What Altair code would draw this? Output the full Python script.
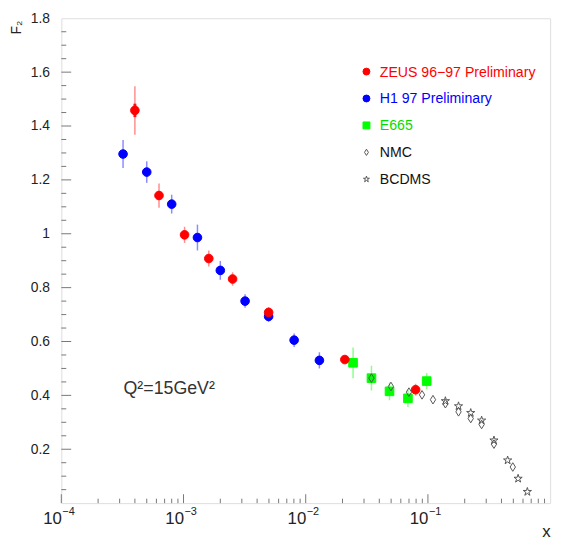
import altair as alt
import pandas as pd

# ---- data ----
zeus_x = [4.0e-4, 6.3e-4, 1.02e-3, 1.61e-3, 2.52e-3, 4.97e-3, 0.0209, 0.0793]
zeus_f2 = [1.458, 1.142, 0.996, 0.908, 0.832, 0.708, 0.533, 0.421]
zeus_err = [0.090, 0.045, 0.030, 0.030, 0.025, 0.020, 0.012, 0.022]
zeus_stat = [0.025, 0.015, 0.012, 0.012, 0.010, 0.008, 0.006, 0.008]

h1_x = [3.2e-4, 5.0e-4, 8.0e-4, 1.3e-3, 2.0e-3, 3.19e-3, 4.97e-3, 8.04e-3, 0.01294]
h1_f2 = [1.296, 1.229, 1.110, 0.986, 0.864, 0.750, 0.693, 0.605, 0.530]
h1_err = [0.052, 0.040, 0.035, 0.048, 0.035, 0.025, 0.020, 0.025, 0.030]

e665_x = [0.0244, 0.0345, 0.0485, 0.0686, 0.0977]
e665_f2 = [0.521, 0.464, 0.415, 0.389, 0.453]
e665_err = [0.057, 0.046, 0.033, 0.032, 0.030]

nmc_x = [0.0345, 0.0498, 0.0699, 0.0895, 0.110, 0.139, 0.178, 0.224, 0.275, 0.347, 0.495]
nmc_f2 = [0.464, 0.433, 0.412, 0.402, 0.384, 0.369, 0.339, 0.314, 0.292, 0.219, 0.134]

bcdms_x = [0.139, 0.178, 0.224, 0.275, 0.347, 0.449, 0.547, 0.651]
bcdms_f2 = [0.379, 0.360, 0.335, 0.307, 0.233, 0.159, 0.091, 0.042]

names = ["ZEUS 96\u221297 Preliminary", "H1 97 Preliminary", "E665", "NMC", "BCDMS"]
x_label_ticks = [1e-4, 1e-3, 1e-2, 1e-1]
x_exponents = ["\u22124", "\u22123", "\u22122", "\u22121"]
y_label_ticks = [0.2, 0.4, 0.6, 0.8, 1.0, 1.2, 1.4, 1.6, 1.8]

# ---- styles ----
fill_colors = ["#ff0000", "#0000ff", "#00ff00", "transparent", "transparent"]
stroke_colors = ["#ff0000", "#0000ff", "#00ff00", "#555555", "#555555"]
label_colors = ["#ff0000", "#0000ff", "#00dd00", "#111111", "#111111"]
DIAMOND = "M0,-1L0.62,0L0,1L-0.62,0Z"
STAR = ("M0,-1L0.223,-0.307L0.951,-0.309L0.361,0.117L0.588,0.809L0,0.38"
        "L-0.588,0.809L-0.361,0.117L-0.951,-0.309L-0.223,-0.307Z")
shapes = ["circle", "circle", "square", DIAMOND, STAR]
sizes = [76, 76, 56, 30, 42]
legend_sizes = [49, 49, 49, 40, 40]
FONT = "Liberation Sans"
AXIS_GREY = "#777777"
TEXT = "#222222"

# ---- tables (drawing order: E665, H1, ZEUS, NMC, BCDMS) ----
rows = []
def add(name, xs, ys, errs=None, stats=None):
    for i, (xv, yv) in enumerate(zip(xs, ys)):
        rows.append({
            "series": name, "x": xv, "f2": yv,
            "err": errs[i] if errs else 0.0,
            "stat": stats[i] if stats else 0.0,
        })

add(names[2], e665_x, e665_f2, e665_err)
add(names[1], h1_x, h1_f2, h1_err)
add(names[0], zeus_x, zeus_f2, zeus_err, zeus_stat)
add(names[3], nmc_x, nmc_f2)
add(names[4], bcdms_x, bcdms_f2)
df = pd.DataFrame(rows)

x_minor = [k * 10.0 ** e for e in range(-4, 0) for k in range(2, 10)]
y_minor = [round(0.05 * i, 2) for i in range(1, 36) if i % 4]
y_major = [round(0.2 * i, 1) for i in range(1, 9)]

xscale = alt.Scale(type="log", domain=[1e-4, 1], nice=False)
yscale = alt.Scale(domain=[0, 1.8], nice=False, zero=False)
shape_scale = alt.Scale(domain=names, range=shapes)
fill_scale = alt.Scale(domain=names, range=fill_colors)
stroke_scale = alt.Scale(domain=names, range=stroke_colors)

W, H = 495, 491

x_axis = alt.Axis(
    values=x_label_ticks, labelExpr="'10'", labelAlign="right", labelFlush=False,
    labelOverlap=False, labelBaseline="alphabetic", labelPadding=21,
    labelFontSize=17, labelFont=FONT, labelColor=TEXT,
    ticks=False, domain=False, grid=False,
    title="x", titleFont=FONT, titleFontSize=17, titleFontWeight="normal",
    titleColor=TEXT, titleX=W, titleY=34, titleAlign="right",
    titleBaseline="alphabetic", titleAnchor="end",
)
y_axis = alt.Axis(
    values=y_label_ticks, format=".1~f", labelPadding=12, labelFontSize=14,
    labelFont=FONT, labelColor=TEXT, ticks=False, domain=False, grid=False,
    title="F\u2082", titleFont=FONT, titleFontSize=14, titleFontWeight="normal",
    titleColor=TEXT, titleAngle=270, titleAlign="left", titleBaseline="alphabetic",
    titleX=-41, titleY=16,
)

errs = alt.Chart(df).transform_filter("datum.err > 0").transform_calculate(
    lo="datum.f2 - datum.err", hi="datum.f2 + datum.err"
).mark_rule(strokeWidth=1.5, opacity=0.45).encode(
    x=alt.X("x:Q", scale=xscale, axis=x_axis),
    y=alt.Y("lo:Q", scale=yscale, axis=y_axis),
    y2="hi:Q",
    color=alt.Color("series:N", scale=stroke_scale, legend=None),
)

stat = alt.Chart(df).transform_filter("datum.stat > 0").transform_calculate(
    lo="datum.f2 - datum.stat", hi="datum.f2 + datum.stat"
).mark_rule(strokeWidth=3, opacity=0.9).encode(
    x=alt.X("x:Q", scale=xscale),
    y=alt.Y("lo:Q", scale=yscale),
    y2="hi:Q",
    color=alt.Color("series:N", scale=stroke_scale, legend=None),
)

points = alt.Chart(df).mark_point(filled=True, opacity=1, strokeWidth=1).encode(
    x=alt.X("x:Q", scale=xscale),
    y=alt.Y("f2:Q", scale=yscale),
    shape=alt.Shape("series:N", scale=shape_scale, legend=None),
    fill=alt.Fill("series:N", scale=fill_scale, legend=None),
    stroke=alt.Stroke("series:N", scale=stroke_scale, legend=None),
    size=alt.Size("series:N", scale=alt.Scale(domain=names, range=sizes), legend=None),
)

# inward tick marks
xmaj = alt.Chart(pd.DataFrame({"x": x_label_ticks})).mark_rule(color=AXIS_GREY).encode(
    x=alt.X("x:Q", scale=xscale), y=alt.value(H), y2=alt.value(H - 9))
xmin = alt.Chart(pd.DataFrame({"x": x_minor})).mark_rule(color=AXIS_GREY).encode(
    x=alt.X("x:Q", scale=xscale), y=alt.value(H), y2=alt.value(H - 4.5))
ymaj = alt.Chart(pd.DataFrame({"f2": y_major})).mark_rule(color=AXIS_GREY).encode(
    y=alt.Y("f2:Q", scale=yscale), x=alt.value(0), x2=alt.value(10))
ymin = alt.Chart(pd.DataFrame({"f2": y_minor})).mark_rule(color=AXIS_GREY).encode(
    y=alt.Y("f2:Q", scale=yscale), x=alt.value(0), x2=alt.value(5))

# exponents of the x labels
expo = alt.Chart(pd.DataFrame({"x": x_label_ticks, "t": x_exponents})).mark_text(
    align="left", baseline="alphabetic", dx=1, fontSize=11, font=FONT, color=TEXT
).encode(x=alt.X("x:Q", scale=xscale), y=alt.value(H + 12), text="t:N")

q2 = alt.Chart(pd.DataFrame({"t": ["Q\u00b2=15GeV\u00b2"]})).mark_text(
    align="left", baseline="alphabetic", fontSize=18, font=FONT, color="#333333"
).encode(x=alt.value(63), y=alt.value(381), text="t:N")

# legend drawn as marks (symbol + coloured label per entry)
LEG_X, LEG_Y0, LEG_DY = 309, 54, 27.25
legend_layers = []
for i, name in enumerate(names):
    ldf = pd.DataFrame({"series": [name]})
    ly = LEG_Y0 + i * LEG_DY
    sym = alt.Chart(ldf).mark_point(filled=True, opacity=1, strokeWidth=1,
                                    size=legend_sizes[i]).encode(
        x=alt.value(LEG_X), y=alt.value(ly),
        shape=alt.Shape("series:N", scale=shape_scale, legend=None),
        fill=alt.Fill("series:N", scale=fill_scale, legend=None),
        stroke=alt.Stroke("series:N", scale=stroke_scale, legend=None),
    )
    lab = alt.Chart(ldf).mark_text(
        align="left", baseline="middle", fontSize=14.3, font=FONT,
        color=label_colors[i], dy=1,
    ).encode(x=alt.value(LEG_X + 13.5), y=alt.value(ly), text="series:N")
    legend_layers += [sym, lab]

chart = alt.layer(errs, stat, points, xmaj, xmin, ymaj, ymin, expo, q2,
                  *legend_layers).properties(
    width=W, height=H,
    autosize=alt.AutoSizeParams(type="none"),
    padding={"left": 54, "top": 7, "right": 10, "bottom": 38},
).configure_view(stroke=AXIS_GREY, strokeWidth=1).configure(font=FONT)

chart.save("out.html", embed_options={"renderer": "svg", "actions": False})
